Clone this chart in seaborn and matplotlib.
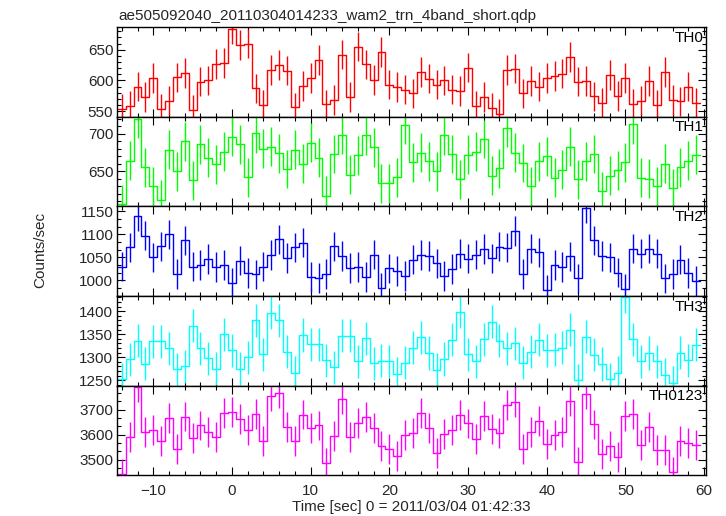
import matplotlib
import matplotlib.pyplot as plt
import numpy as np
import seaborn as sns
from matplotlib.ticker import AutoMinorLocator, MultipleLocator

matplotlib.use("Agg")

TITLE = "ae505092040_20110304014233_wam2_trn_4band_short.qdp"
X_LABEL = "Time [sec] 0 = 2011/03/04 01:42:33"
Y_LABEL = "Counts/sec"

# bin centres (1 s bins)
TIME = np.arange(-14, 60)

TH0 = [
    554, 559, 590, 573, 604, 554, 567, 605, 612, 552, 598, 600, 627, 628, 683, 658,
    660, 587, 560, 617, 625, 616, 556, 591, 604, 633, 561, 568, 642, 573, 655, 626,
    601, 646, 593, 589, 585, 579, 614, 603, 593, 600, 585, 583, 621, 559, 573, 555,
    545, 617, 619, 579, 599, 590, 604, 607, 611, 638, 598, 599, 574, 564, 609, 575,
    604, 562, 567, 599, 560, 614, 568, 566, 590, 563,
]
TH1 = [
    606, 664, 720, 655, 630, 612, 679, 650, 690, 638, 686, 668, 659, 676, 696, 686,
    642, 701, 680, 683, 674, 653, 679, 660, 688, 668, 617, 673, 699, 645, 671, 698,
    682, 634, 634, 642, 712, 662, 675, 663, 650, 698, 673, 639, 672, 676, 693, 644,
    654, 708, 675, 661, 630, 663, 670, 641, 652, 683, 639, 663, 673, 623, 644, 651,
    662, 713, 641, 640, 630, 660, 627, 655, 664, 672,
]
TH2 = [
    1030, 1072, 1139, 1097, 1050, 1074, 1100, 1014, 1087, 1030, 1033, 1046, 1029, 1033,
    995, 1043, 1016, 1013, 1030, 1055, 1089, 1049, 1072, 1082, 1007, 1005, 1014, 1074,
    1053, 1027, 1029, 1007, 1056, 983, 1026, 1020, 1009, 1045, 1055, 1053, 1037, 1009,
    1025, 1058, 1047, 1056, 1068, 1048, 1073, 1071, 1107, 1014, 1069, 1061, 980, 1033,
    1029, 1052, 1004, 1157, 1087, 1053, 1050, 1017, 982, 1069, 1058, 1069, 1058, 1004,
    1014, 1045, 1016, 999,
]
TH3 = [
    1252, 1295, 1336, 1286, 1334, 1334, 1319, 1274, 1280, 1368, 1319, 1297, 1275, 1350,
    1315, 1275, 1300, 1380, 1306, 1397, 1380, 1312, 1266, 1348, 1328, 1328, 1293, 1278,
    1347, 1347, 1291, 1341, 1287, 1292, 1291, 1264, 1288, 1320, 1343, 1309, 1272, 1296,
    1338, 1399, 1306, 1291, 1339, 1377, 1336, 1319, 1330, 1288, 1312, 1338, 1315, 1316,
    1320, 1360, 1250, 1344, 1305, 1285, 1252, 1266, 1431, 1339, 1291, 1309, 1291, 1262,
    1244, 1310, 1293, 1327,
]
TH0123 = [
    3441, 3591, 3791, 3611, 3619, 3574, 3668, 3542, 3673, 3587, 3637, 3612, 3591, 3688,
    3692, 3664, 3619, 3684, 3576, 3754, 3769, 3632, 3574, 3681, 3627, 3637, 3487, 3596,
    3742, 3591, 3646, 3672, 3627, 3554, 3543, 3515, 3597, 3606, 3688, 3627, 3528, 3604,
    3620, 3680, 3645, 3582, 3676, 3623, 3607, 3718, 3732, 3541, 3610, 3655, 3562, 3599,
    3611, 3737, 3489, 3764, 3641, 3524, 3554, 3510, 3674, 3684, 3558, 3630, 3538, 3538,
    3450, 3576, 3565, 3560,
]

BANDS = ["TH0", "TH1", "TH2", "TH3", "TH0123"]
SERIES = [TH0, TH1, TH2, TH3, TH0123]
ERRORS = [24, 26, 32, 36, 60]
COLORS = ["#ff0000", "#00ff00", "#0000ff", "#00ffff", "#ff00ff"]
YLIMS = [(541, 687), (603, 723), (966, 1161), (1238, 1433), (3437, 3797)]
YMAJOR = [50, 50, 50, 50, 100]
YMINOR_DIV = [5, 5, 3, 5, 3]

sns.set_theme(style="ticks")
plt.rcParams["font.family"] = ["Liberation Sans", "DejaVu Sans"]

fig, axes = plt.subplots(5, 1, figsize=(7.26, 5.16), dpi=100, sharex=True)
fig.subplots_adjust(left=0.1618, right=0.9725, top=0.9477, bottom=0.0789, hspace=0)

for ax, band, vals, err, color, ylim, ymaj, ydiv in zip(
    axes, BANDS, SERIES, ERRORS, COLORS, YLIMS, YMAJOR, YMINOR_DIV
):
    vals = np.asarray(vals, dtype=float)
    edges = np.append(TIME - 0.5, TIME[-1] + 0.5)
    levels = np.append(vals, vals[-1])
    sns.lineplot(x=edges, y=levels, ax=ax, drawstyle="steps-post", color=color,
                 linewidth=1.0, estimator=None, sort=False)
    ax.errorbar(TIME, vals, yerr=err, fmt="none", ecolor=color, elinewidth=1.0, capsize=0)

    ax.set_xlim(-14.55, 60.25)
    ax.set_ylim(*ylim)
    ax.xaxis.set_major_locator(MultipleLocator(10))
    ax.xaxis.set_minor_locator(AutoMinorLocator(5))
    ax.yaxis.set_major_locator(MultipleLocator(ymaj))
    ax.yaxis.set_minor_locator(AutoMinorLocator(ydiv))
    ax.tick_params(which="both", direction="in", top=True, right=True, color="black",
                   labelsize=11, width=0.8)
    ax.tick_params(which="major", length=6, pad=3)
    ax.tick_params(which="minor", length=3)
    for sp in ax.spines.values():
        sp.set_color("black")
        sp.set_linewidth(1.0)
    ax.text(0.995, 0.96, band, transform=ax.transAxes, ha="right", va="top",
            fontsize=11, color="black")

axes[-1].tick_params(axis="x", pad=6)
axes[-1].set_xlabel(X_LABEL, fontsize=11, labelpad=2)
fig.text(0.055, 0.515, Y_LABEL, rotation=90, ha="center", va="center", fontsize=11)
fig.text(0.1625, 0.969, TITLE, ha="left", va="center", fontsize=11)

fig.savefig("out.png", dpi=100)
